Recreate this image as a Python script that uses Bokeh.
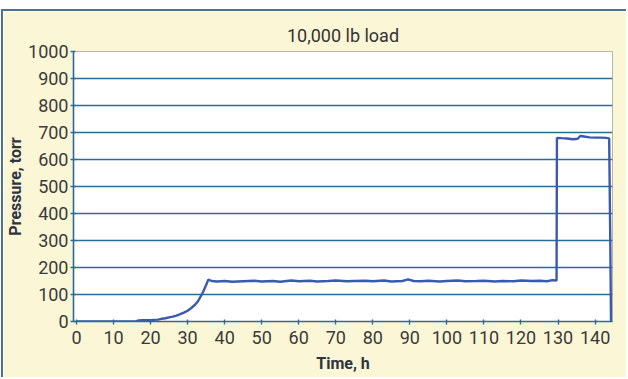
from bokeh.plotting import figure
from bokeh.models import Range1d, FixedTicker
from bokeh.embed import file_html
from bokeh.resources import INLINE

# ---- data ----
time_h = [0, 10, 16, 16.8, 18, 20, 22, 23, 24, 25, 26, 27, 28, 29, 30, 31, 32, 32.8, 33.5, 34.2, 35, 35.6,
          36.5, 38, 40, 42, 45, 48, 50, 53, 55, 58, 60, 63, 65, 68, 70, 73, 75, 78, 80, 83, 85, 88, 89.5, 91,
          93, 95, 98, 100, 103, 105, 108, 110, 113, 115, 118, 120, 123, 125, 127, 128.5, 129.6,
          129.7, 131, 132.5, 134, 135.3, 136, 137, 138.5, 140, 141.5, 143, 143.8, 144.1, 144.3]
pressure_torr = [0, 0, 0, 4, 5, 5, 7, 10, 12, 15, 18, 22, 27, 33, 40, 50, 62, 75, 92, 110, 135, 155,
                 150, 148, 150, 147, 149, 151, 148, 150, 147, 152, 149, 151, 148, 150, 152, 149, 150, 151, 149, 152,
                 148, 150, 156, 150, 149, 151, 148, 150, 152, 149, 150, 151, 148, 150, 149, 152, 150, 151, 149, 153, 152,
                 680, 679, 678, 675, 677, 687, 685, 682, 681, 681, 680, 678, 300, 0]

x_ticks = [0, 10, 20, 30, 40, 50, 60, 70, 80, 90, 100, 110, 120, 130, 140]
y_ticks = [0, 100, 200, 300, 400, 500, 600, 700, 800, 900, 1000]
grid_lines = [100, 200, 300, 400, 500, 600, 700, 800, 900]

title_text = "10,000 lb load"
x_label = "Time, h"
y_label = "Pressure, torr"

FONT = "Roboto"
BG = "#fbf6d6"
GRID = "#2b6b9c"
LINE = "#3b59b0"
TXT = "#3a3a3a"

p = figure(width=625, height=368, output_backend="svg", toolbar_location=None,
           x_range=Range1d(-0.8, 144.7), y_range=Range1d(0, 1000),
           min_border_left=70, min_border_right=16, min_border_top=40, min_border_bottom=58,
           background_fill_color="white", border_fill_color=BG,
           styles={"margin-top": "9px", "margin-left": "1px",
                   "border-top": "2px solid #4b7193", "border-left": "2px solid #4b7193"})

p.title.text = title_text
p.title.align = "center"
p.title.text_font = FONT
p.title.text_font_size = "18px"
p.title.text_font_style = "normal"
p.title.text_color = "#333333"
p.title.offset = 0
p.title.standoff = 11

p.outline_line_color = "#b5b5b5"
p.outline_line_width = 1

p.line(time_h, pressure_torr, line_color=LINE, line_width=2.4)

p.xgrid.visible = False
p.ygrid.ticker = FixedTicker(ticks=grid_lines)
p.ygrid.grid_line_color = GRID
p.ygrid.grid_line_width = 1.6

p.xaxis.ticker = FixedTicker(ticks=x_ticks)
p.yaxis.ticker = FixedTicker(ticks=y_ticks)
for ax in (p.xaxis[0], p.yaxis[0]):
    ax.axis_line_color = GRID
    ax.axis_line_width = 1.6
    ax.major_tick_line_color = GRID
    ax.major_tick_line_width = 1.4
    ax.major_tick_in = 2
    ax.major_tick_out = 3
    ax.minor_tick_line_color = None
    ax.major_label_text_font = FONT
    ax.major_label_text_font_size = "18px"
    ax.major_label_text_color = TXT
    ax.axis_label_text_font = FONT
    ax.axis_label_text_font_size = "16px"
    ax.axis_label_text_font_style = "bold"
    ax.axis_label_text_color = "#2e3440"

p.xaxis.major_label_standoff = 6
p.yaxis.major_label_standoff = 2
p.xaxis.axis_label = x_label
p.yaxis.axis_label = y_label
p.xaxis.axis_label_standoff = 7
p.yaxis.axis_label_standoff = 0

open("out.html", "w").write(file_html(p, INLINE))
